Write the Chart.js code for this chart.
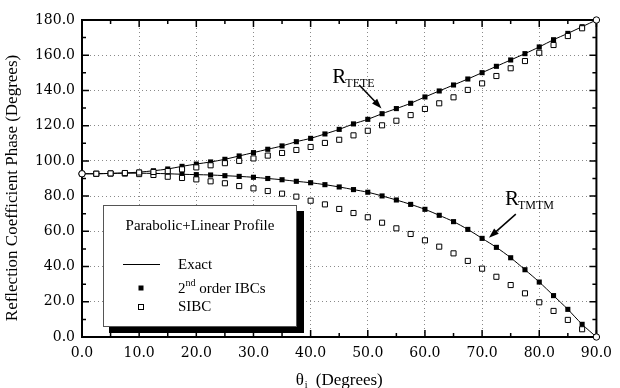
<!DOCTYPE html>
<html>
<head>
<meta charset="utf-8">
<script src="https://cdn.jsdelivr.net/npm/chart.js@4.4.1/dist/chart.umd.min.js"></script>
<style>
  html, body { margin: 0; padding: 0; background: #fff; }
  #wrap { width: 620px; height: 388px; }
</style>
</head>
<body>
<div id="wrap"><canvas id="graphCanvas" width="620" height="388"></canvas></div>
<script>
// incidence angle (degrees)
var theta = [0, 2.5, 5, 7.5, 10, 12.5, 15, 17.5, 20, 22.5, 25, 27.5, 30, 32.5, 35, 37.5, 40, 42.5, 45,
  47.5, 50, 52.5, 55, 57.5, 60, 62.5, 65, 67.5, 70, 72.5, 75, 77.5, 80, 82.5, 85, 87.5, 90];

// R_TETE phase
var tete2nd = [92.7, 92.7, 92.9, 93.2, 93.6, 94.4, 95.4, 96.9, 98.2, 99.4, 100.9, 102.8, 104.7, 106.6, 108.5, 110.9,
  112.8, 115.3, 117.9, 121.0, 123.6, 126.8, 129.7, 132.7, 136.3, 139.7, 143.1, 146.5, 150.1, 153.7, 157.3,
  160.9, 164.7, 168.8, 172.4, 176.2, 180.0];
var teteSibc = [92.7, 92.7, 92.9, 93.1, 93.4, 93.7, 94.2, 95.2, 96.3, 97.5, 98.7, 100.0, 101.4, 103.0, 104.5, 106.2,
  107.9, 110.2, 112.0, 114.5, 117.1, 120.2, 122.8, 126.0, 129.5, 132.7, 136.1, 140.3, 144.0, 148.2, 152.6,
  156.7, 161.4, 165.8, 170.9, 175.3, 180.0];
var teteExact = tete2nd.slice();

// R_TMTM phase
var tmtm2nd = [92.7, 92.7, 92.9, 93.0, 93.0, 92.9, 92.7, 92.4, 92.2, 92.0, 91.6, 91.2, 90.7, 90.0, 89.3, 88.4,
  87.6, 86.5, 85.2, 83.7, 82.2, 80.1, 77.8, 75.3, 72.5, 69.1, 65.5, 61.1, 56.0, 50.9, 45.0,
  38.2, 31.2, 23.5, 15.7, 7.2, 0.0];
var tmtmSibc = [92.7, 92.7, 92.8, 92.8, 92.5, 92.0, 91.0, 90.3, 89.5, 88.4, 87.3, 85.7, 84.4, 82.9, 81.4, 79.7,
  77.4, 75.3, 72.7, 70.4, 68.0, 64.9, 61.7, 58.5, 54.9, 51.3, 47.5, 43.2, 38.8, 34.2, 29.5,
  24.8, 19.7, 14.8, 9.7, 4.4, 0.0];
var tmtmExact = tmtm2nd.slice();

var legendTitle = 'Parabolic+Linear Profile';
var legendItems = ['Exact', '2nd order IBCs', 'SIBC'];
var yTitle = 'Reflection Coefficient Phase (Degrees)';

function pts(arr) {
  var out = [];
  for (var i = 0; i < theta.length; i++) {
    out.push({x: theta[i], y: arr[i]});
  }
  return out;
}

// open markers: circles at both ends, squares elsewhere
var openStyles = [], openRadii = [];
for (var k = 0; k < theta.length; k++) {
  var end = (k === 0 || k === theta.length - 1);
  openStyles.push(end ? 'circle' : 'rect');
  openRadii.push(end ? 3.2 : 3.6);
}

var serif = '"Liberation Serif", "Times New Roman", serif';

function drawMarker(ctx, x, y, filled) {
  ctx.save();
  if (filled) {
    ctx.fillStyle = '#000';
    ctx.fillRect(x - 2.5, y - 2.5, 5, 5);
  } else {
    ctx.fillStyle = '#fff';
    ctx.strokeStyle = '#000';
    ctx.lineWidth = 1;
    ctx.fillRect(x - 2.5, y - 2.5, 5, 5);
    ctx.strokeRect(x - 2.5, y - 2.5, 5, 5);
  }
  ctx.restore();
}

function arrow(ctx, x1, y1, x2, y2) {
  var a = Math.atan2(y2 - y1, x2 - x1);
  ctx.save();
  ctx.strokeStyle = '#000';
  ctx.fillStyle = '#000';
  ctx.lineWidth = 1.5;
  ctx.beginPath();
  ctx.moveTo(x1, y1);
  ctx.lineTo(x2 - 6 * Math.cos(a), y2 - 6 * Math.sin(a));
  ctx.stroke();
  ctx.beginPath();
  ctx.moveTo(x2, y2);
  ctx.lineTo(x2 - 10 * Math.cos(a) + 3.5 * Math.sin(a), y2 - 10 * Math.sin(a) - 3.5 * Math.cos(a));
  ctx.lineTo(x2 - 10 * Math.cos(a) - 3.5 * Math.sin(a), y2 - 10 * Math.sin(a) + 3.5 * Math.cos(a));
  ctx.closePath();
  ctx.fill();
  ctx.restore();
}

var framePlugin = {
  id: 'frame',
  beforeDatasetsDraw: function (chart) {
    var ctx = chart.ctx, a = chart.chartArea;
    var xs = chart.scales.x, ys = chart.scales.y;
    ctx.save();
    ctx.strokeStyle = '#000';
    ctx.lineWidth = 1.5;
    // inside ticks
    for (var v = 0; v <= 90; v += 5) {
      var px = xs.getPixelForValue(v);
      var len = (v % 10 === 0) ? 7 : 4;
      ctx.beginPath();
      ctx.moveTo(px, a.bottom); ctx.lineTo(px, a.bottom - len);
      ctx.moveTo(px, a.top); ctx.lineTo(px, a.top + len);
      ctx.stroke();
    }
    for (var w = 0; w <= 180; w += 10) {
      var py = ys.getPixelForValue(w);
      var l2 = (w % 20 === 0) ? 7 : 4;
      ctx.beginPath();
      ctx.moveTo(a.left, py); ctx.lineTo(a.left + l2, py);
      ctx.moveTo(a.right, py); ctx.lineTo(a.right - l2, py);
      ctx.stroke();
    }
    ctx.lineWidth = 2;
    ctx.strokeRect(a.left, a.top, a.right - a.left, a.bottom - a.top);
    ctx.restore();
  },
  afterDraw: function (chart) {
    var ctx = chart.ctx, a = chart.chartArea;
    var xs = chart.scales.x, ys = chart.scales.y;
    ctx.save();
    ctx.fillStyle = '#000';
    ctx.textBaseline = 'alphabetic';

    // y axis title
    ctx.save();
    ctx.translate(17, 188);
    ctx.rotate(-Math.PI / 2);
    ctx.font = '17px ' + serif;
    ctx.textAlign = 'center';
    ctx.fillText(yTitle, 0, 0);
    ctx.restore();

    // x axis title with subscript
    ctx.font = '17px ' + serif;
    var t1 = '\u03b8', t2 = '(Degrees)';
    var w1 = ctx.measureText(t1).width, w2 = ctx.measureText(t2).width;
    var total = w1 + 12 + w2;
    var sx = (a.left + a.right) / 2 - total / 2;
    ctx.textAlign = 'left';
    ctx.fillText(t1, sx, 385);
    ctx.font = '10px ' + serif;
    ctx.fillText('i', sx + w1 + 1, 388);
    ctx.font = '17px ' + serif;
    ctx.fillText(t2, sx + w1 + 12, 385);

    // curve labels
    function lbl(main, sub, dx, dy) {
      var px = xs.getPixelForValue(dx), py = ys.getPixelForValue(dy);
      ctx.font = '21px ' + serif;
      ctx.fillText(main, px, py);
      var mw = ctx.measureText(main).width;
      ctx.font = '12px ' + serif;
      ctx.fillText(sub, px + mw - 1, py + 4);
    }
    lbl('R', 'TETE', 43.8, 144.5);
    arrow(ctx, xs.getPixelForValue(48.5), ys.getPixelForValue(143.1),
      xs.getPixelForValue(52.4), ys.getPixelForValue(129.8));
    lbl('R', 'TMTM', 74.0, 75.2);
    arrow(ctx, xs.getPixelForValue(75.9), ys.getPixelForValue(69.8),
      xs.getPixelForValue(71.2), ys.getPixelForValue(56.3));

    // legend box with shadow
    ctx.fillStyle = '#000';
    ctx.fillRect(109, 211, 195, 122);
    ctx.fillStyle = '#fff';
    ctx.fillRect(103, 205, 194, 122);
    ctx.strokeStyle = '#555';
    ctx.lineWidth = 1;
    ctx.strokeRect(103.5, 205.5, 193, 121);

    ctx.fillStyle = '#000';
    ctx.font = '15px ' + serif;
    ctx.textAlign = 'center';
    ctx.textBaseline = 'middle';
    ctx.fillText(legendTitle, 200, 226);
    ctx.textAlign = 'left';
    ctx.beginPath();
    ctx.moveTo(123, 264.5); ctx.lineTo(160, 264.5);
    ctx.strokeStyle = '#000';
    ctx.stroke();
    ctx.fillText(legendItems[0], 178, 265);
    drawMarker(ctx, 141, 288, true);
    ctx.fillText('2', 178, 289);
    var w2nd = ctx.measureText('2').width;
    ctx.font = '10px ' + serif;
    ctx.fillText('nd', 178 + w2nd, 283);
    var wnd = ctx.measureText('nd').width;
    ctx.font = '15px ' + serif;
    ctx.fillText(legendItems[1].slice(3), 178 + w2nd + wnd, 289);
    drawMarker(ctx, 141, 307, false);
    ctx.fillText(legendItems[2], 178, 307);
    ctx.restore();
  }
};

Chart.defaults.font.family = '"DejaVu Serif", serif';
Chart.defaults.font.size = 14;
Chart.defaults.color = '#000';

var lineBase = {showLine: true, pointRadius: 0, borderColor: '#000', borderWidth: 1, fill: false, tension: 0.3, clip: false};

// Chart.js paints the first dataset on top, so open markers come first and lines last
var graphTarget = document.getElementById('graphCanvas');
window.bar = new Chart(graphTarget, {
  type: 'scatter',
  data: {
    datasets: [
      {
        label: 'SIBC TETE', data: pts(teteSibc), pointStyle: openStyles, pointRadius: openRadii,
        backgroundColor: '#fff', borderColor: '#000', borderWidth: 1, clip: false
      },
      {
        label: 'SIBC TMTM', data: pts(tmtmSibc), pointStyle: openStyles, pointRadius: openRadii,
        backgroundColor: '#fff', borderColor: '#000', borderWidth: 1, clip: false
      },
      {
        label: '2nd order IBCs TETE', data: pts(tete2nd), pointStyle: 'rect', pointRadius: 3.6,
        backgroundColor: '#000', borderColor: '#000', borderWidth: 0, clip: false
      },
      {
        label: '2nd order IBCs TMTM', data: pts(tmtm2nd), pointStyle: 'rect', pointRadius: 3.6,
        backgroundColor: '#000', borderColor: '#000', borderWidth: 0, clip: false
      },
      Object.assign({label: 'Exact TETE', data: pts(teteExact)}, lineBase),
      Object.assign({label: 'Exact TMTM', data: pts(tmtmExact)}, lineBase)
    ]
  },
  options: {
    responsive: false,
    animation: false,
    devicePixelRatio: 1,
    layout: {padding: {top: 20, right: 19, left: 0, bottom: 0}},
    plugins: {legend: {display: false}, tooltip: {enabled: false}},
    scales: {
      x: {
        type: 'linear', min: 0, max: 90,
        afterFit: function (s) { s.height = 51; },
        ticks: {
          stepSize: 5, autoSkip: false, maxRotation: 0, padding: 8,
          callback: function (v) { return v % 10 === 0 ? v.toFixed(1) : ''; }
        },
        grid: {
          drawTicks: false, tickLength: 0, lineWidth: 1,
          color: function (c) { return (c.tick && c.tick.value % 10 === 0) ? '#8a8a8a' : 'rgba(0,0,0,0)'; }
        },
        border: {display: false, dash: [1, 3]}
      },
      y: {
        type: 'linear', min: 0, max: 180,
        afterFit: function (s) { s.width = 82; },
        ticks: {
          stepSize: 10, autoSkip: false, padding: 7,
          callback: function (v) { return v % 20 === 0 ? v.toFixed(1) : ''; }
        },
        grid: {
          drawTicks: false, tickLength: 0, lineWidth: 1,
          color: function (c) { return (c.tick && c.tick.value % 20 === 0) ? '#8a8a8a' : 'rgba(0,0,0,0)'; }
        },
        border: {display: false, dash: [1, 3]}
      }
    }
  },
  plugins: [framePlugin]
});
</script>
</body>
</html>
